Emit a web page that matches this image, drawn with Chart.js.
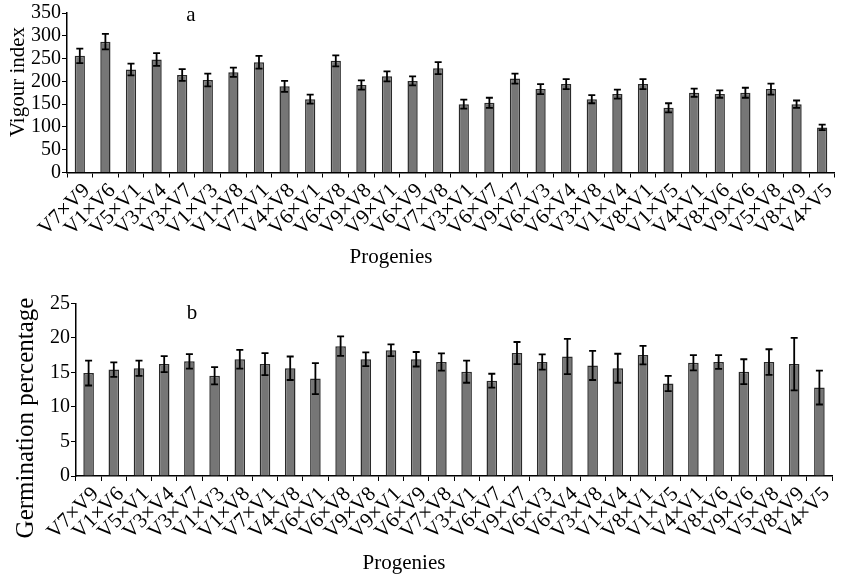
<!DOCTYPE html>
<html>
<head>
<meta charset="utf-8">
<script src="https://cdn.jsdelivr.net/npm/chart.js@4/dist/chart.umd.min.js"></script>
<style>
  html, body { margin:0; padding:0; background:#fff; }
  #wrap { position:relative; width:841px; height:577px; overflow:hidden; }
  canvas { position:absolute; left:0; }
</style>
</head>
<body>
<div id="wrap">
  <canvas id="c1" width="841" height="290" style="top:0"></canvas>
  <canvas id="c2" width="841" height="287" style="top:290px"></canvas>
</div>
<script>
// ---- data ----
const categories = ["V7×V9","V1×V6","V5×V1","V3×V4","V3×V7","V1×V3","V1×V8","V7×V1","V4×V8","V6×V1",
  "V6×V8","V9×V8","V9×V1","V6×V9","V7×V8","V3×V1","V6×V7","V9×V7","V6×V3","V6×V4",
  "V3×V8","V1×V4","V8×V1","V1×V5","V4×V1","V8×V6","V9×V6","V5×V8","V8×V9","V4×V5"];
const vigour = [256,287,226,248,214,203,220,242,189,161,245,192,211,201,229,150,153,206,183,194,161,172,194,142,175,172,175,183,150,99];
const vigourErr = [16,17,13,14,13,14,10,14,12,10,12,10,11,10,13,10,11,11,11,11,9,10,11,10,9,8,11,12,8,6];
const germination = [14.9,15.4,15.6,16.2,16.6,14.5,16.9,16.2,15.6,14.1,18.8,16.9,18.2,16.9,16.5,15.1,13.8,17.8,16.5,17.3,16.0,15.6,17.5,13.4,16.4,16.5,15.1,16.5,16.2,12.8];
const germinationErr = [1.8,1.05,1.1,1.15,1.05,1.25,1.35,1.6,1.7,2.25,1.4,1.0,0.85,1.05,1.25,1.6,1.0,1.6,1.1,2.55,2.1,2.1,1.35,1.1,1.1,1.0,1.8,1.85,3.8,2.45];
const vigourTicks = {min:0, max:350, step:50};
const germTicks = {min:0, max:25, step:5};

const SERIF = "'Liberation Serif', 'Times New Roman', serif";

const errorBarPlugin = {
  id: 'errorBars',
  afterDatasetsDraw(chart, args, opts) {
    const meta = chart.getDatasetMeta(0);
    const ys = chart.scales.y;
    const ctx = chart.ctx;
    const vals = chart.data.datasets[0].data;
    ctx.save();
    ctx.strokeStyle = '#000';
    ctx.lineWidth = 1.8;
    meta.data.forEach((bar, i) => {
      const v = vals[i], e = opts.errors[i];
      const yt = ys.getPixelForValue(v + e), yb = ys.getPixelForValue(v - e);
      const x = bar.x, w = opts.cap;
      ctx.beginPath();
      ctx.moveTo(x, yt); ctx.lineTo(x, yb);
      ctx.moveTo(x - w, yt); ctx.lineTo(x + w, yt);
      ctx.moveTo(x - w, yb); ctx.lineTo(x + w, yb);
      ctx.stroke();
    });
    ctx.restore();
  }
};

const textPlugin = {
  id: 'panelText',
  afterDraw(chart, args, opts) {
    const ctx = chart.ctx;
    (opts.items || []).forEach(t => {
      ctx.save();
      ctx.font = t.size + 'px ' + SERIF;
      ctx.fillStyle = '#000';
      ctx.textAlign = 'center';
      ctx.textBaseline = 'middle';
      ctx.translate(t.x, t.y);
      if (t.rot) ctx.rotate(t.rot);
      ctx.fillText(t.text, 0, 0);
      ctx.restore();
    });
  }
};

function makeChart(id, values, errs, tk, cfg) {
  return new Chart(document.getElementById(id), {
    type: 'bar',
    data: {
      labels: categories,
      datasets: [{
        data: values,
        backgroundColor: '#767676',
        borderColor: '#2a2a2a',
        borderWidth: 1.5,
        borderSkipped: 'bottom',
        barPercentage: cfg.barPct,
        categoryPercentage: 1
      }]
    },
    options: {
      responsive: false,
      animation: false,
      devicePixelRatio: 1,
      layout: { padding: { top: cfg.top, right: cfg.right, left: 0, bottom: 0 } },
      plugins: {
        legend: { display: false },
        tooltip: { enabled: false },
        errorBars: { errors: errs, cap: 3.5 },
        panelText: { items: cfg.texts }
      },
      scales: {
        x: {
          offset: true,
          grid: { offset: true, drawOnChartArea: false, drawTicks: true, tickLength: 5, color: '#000', lineWidth: 1 },
          border: { color: '#000', width: 1.5 },
          ticks: { autoSkip: false, maxRotation: 45, minRotation: 45, color: '#000', padding: 1, labelOffset: 7,
                   font: { family: SERIF, size: cfg.xFont } },
          afterFit(s) { s.height = cfg.xHeight; }
        },
        y: {
          min: tk.min, max: tk.max,
          grid: { drawOnChartArea: false, drawTicks: true, tickLength: 5, color: '#000', lineWidth: 1 },
          border: { color: '#000', width: 1.5 },
          ticks: { autoSkip: false, stepSize: tk.step, color: '#000', padding: 1, font: { family: SERIF, size: cfg.yFont } },
          afterFit(s) { s.width = cfg.yWidth; }
        }
      }
    },
    plugins: [errorBarPlugin, textPlugin]
  });
}

makeChart('c1', vigour, vigourErr, vigourTicks, {
  top: 13, right: 0.5, barPct: 0.4, xFont: 21, yFont: 20, xHeight: 117.5, yWidth: 67,
  texts: [
    { text: 'a', x: 191, y: 15, size: 21 },
    { text: 'Vigour index', x: 18, y: 82, size: 21, rot: -Math.PI / 2 },
    { text: 'Progenies', x: 391, y: 257, size: 21 }
  ]
});

makeChart('c2', germination, germinationErr, germTicks, {
  top: 13.3, right: 9, barPct: 0.42, xFont: 21, yFont: 20, xHeight: 101, yWidth: 76,
  texts: [
    { text: 'b', x: 192, y: 23, size: 21 },
    { text: 'Germination percentage', x: 26, y: 128, size: 25, rot: -Math.PI / 2 },
    { text: 'Progenies', x: 404, y: 273, size: 21 }
  ]
});
</script>
</body>
</html>
